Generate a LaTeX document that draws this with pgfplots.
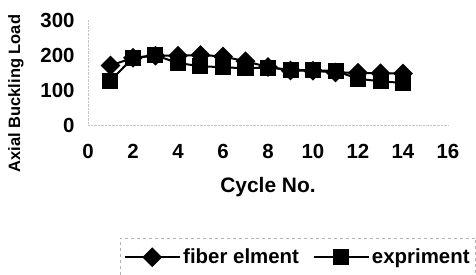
\documentclass[border=0pt]{standalone}
\usepackage{fontspec}
\setmainfont{Liberation Sans}
\usepackage{pgfplots}
\pgfplotsset{compat=1.18}
\begin{document}
\begin{tikzpicture}
\useasboundingbox (-88bp,-150bp) rectangle (388bp,125bp);
\begin{axis}[
  at={(0,0)}, anchor=south west,
  scale only axis,
  width=360bp, height=105bp,
  xmin=0, xmax=16, ymin=0, ymax=300,
  xtick={0,2,...,16}, ytick={0,100,200,300},
  axis x line=bottom, axis y line=left,
  axis line style={gray!45, densely dotted, -},
  major tick length=0pt,
  /pgf/number format/assume math mode=true,
  tick label style={font=\fontsize{20.5}{22}\selectfont\bfseries},
  yticklabel style={xshift=-10bp},
  xticklabel style={yshift=-16bp},
  xlabel={Cycle No.},
  xlabel style={font=\fontsize{21}{24}\selectfont\bfseries, at={(axis description cs:0.5,-0.59)}, anchor=center},
  ylabel={Axial Buckling Load},
  ylabel style={font=\fontsize{16.5}{18}\selectfont\bfseries, at={(axis description cs:-0.2,0.30)}, anchor=center},
  legend columns=2,
  legend style={at={(axis description cs:0.089,-1.076)}, anchor=north west,
    draw=gray!60, dashed, inner xsep=4bp, inner ysep=9bp,
    font=\fontsize{20.5}{22}\selectfont\bfseries,
    /tikz/every even column/.append style={column sep=12bp}},
  legend image code/.code={%
    \draw[mark repeat=2, mark phase=2, solid] plot coordinates {(0bp,0bp) (27bp,0bp) (55bp,0bp)};},
]
\addplot[black, line width=2bp, mark=square*, mark size=6bp, mark options={rotate=45, solid}] coordinates {
(1,170) (2,192) (3,198) (4,198) (5,200) (6,196) (7,182) (8,166) (9,156) (10,155) (11,150) (12,149) (13,148) (14,147)};
\addlegendentry{fiber elment}
\addplot[black, line width=2bp, mark=square*, mark size=7bp, mark options={solid}] coordinates {
(1,127) (2,192) (3,199) (4,177) (5,168) (6,165) (7,162) (8,164) (9,158) (10,156) (11,155) (12,132) (13,125) (14,120)};
\addlegendentry{expriment}
\end{axis}
\end{tikzpicture}
\end{document}
